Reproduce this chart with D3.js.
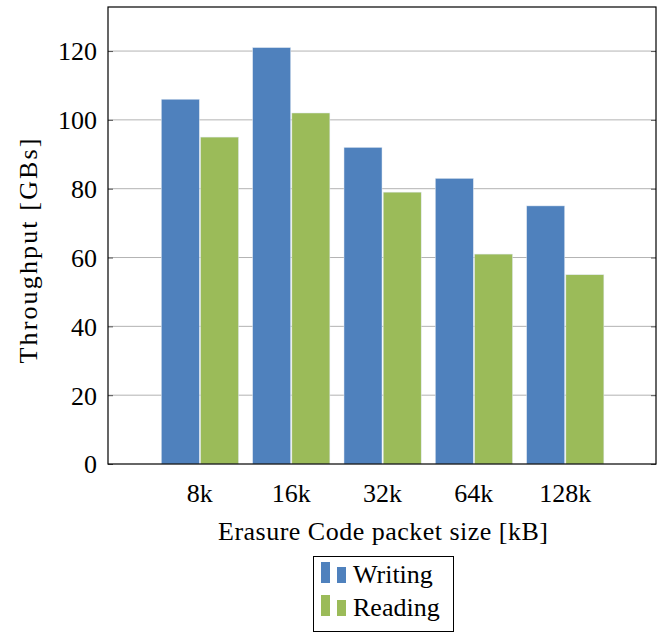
<!DOCTYPE html>
<html>
<head>
<meta charset="utf-8">
<script src="https://cdn.jsdelivr.net/npm/d3@7"></script>
<style>
  body { margin: 0; background: #fff; }
</style>
</head>
<body>
<script>
// chart data
const categories = ['8k', '16k', '32k', '64k', '128k'];
const writing = [106, 121, 92, 83, 75];
const reading = [95, 102, 79, 61, 55];
const yTicks = [0, 20, 40, 60, 80, 100, 120];
const seriesNames = ['Writing', 'Reading'];

const font = "'Liberation Serif', 'Times New Roman', Times, 'DejaVu Serif', serif";
const fs = 26;
const colors = { Writing: '#4f81bd', Reading: '#9bbb59' };
const width = 663, height = 633;
const margin = { top: 7, right: 7, bottom: 169, left: 108 };

const svg = d3.select('body').append('svg')
  .attr('width', width)
  .attr('height', height)
  .attr('font-family', font);

const x = d3.scalePoint()
  .domain(categories)
  .range([margin.left, width - margin.right])
  .padding(1);

const y = d3.scaleLinear()
  .domain([0, 132.8])
  .range([height - margin.bottom, margin.top]);

const barW = 38;

// grid
svg.append('g')
  .selectAll('line')
  .data(yTicks.slice(1))
  .join('line')
  .attr('x1', margin.left)
  .attr('x2', width - margin.right)
  .attr('y1', d => y(d))
  .attr('y2', d => y(d))
  .attr('stroke', '#b3b3b3')
  .attr('stroke-width', 1);

// bars
const series = [
  { name: 'Writing', values: writing, off: -barW },
  { name: 'Reading', values: reading, off: 1.2 }
];
series.forEach(s => {
  svg.append('g')
    .selectAll('rect')
    .data(s.values)
    .join('rect')
    .attr('x', (d, i) => x(categories[i]) + s.off)
    .attr('y', d => y(d))
    .attr('width', barW)
    .attr('height', d => y(0) - y(d))
    .attr('fill', colors[s.name])
    .attr('stroke', '#dfe8f2')
    .attr('stroke-width', 0.5);
});

// y axis ticks (inward, both sides)
svg.append('g')
  .attr('transform', `translate(${margin.left},0)`)
  .call(d3.axisLeft(y).tickValues(yTicks).tickSize(-5).tickPadding(11))
  .attr('font-family', font)
  .call(g => g.select('.domain').remove())
  .call(g => g.selectAll('line').attr('stroke', '#555'))
  .call(g => g.selectAll('text').attr('font-size', fs).attr('dy', '0.34em'));

svg.append('g')
  .attr('transform', `translate(${width - margin.right},0)`)
  .call(d3.axisRight(y).tickValues(yTicks).tickSize(-5).tickFormat(''))
  .call(g => g.select('.domain').remove())
  .call(g => g.selectAll('line').attr('stroke', '#555'));

// x axis labels
svg.append('g')
  .attr('transform', `translate(0,${y(0)})`)
  .call(d3.axisBottom(x).tickSize(0).tickPadding(20))
  .attr('font-family', font)
  .call(g => g.select('.domain').remove())
  .call(g => g.selectAll('text').attr('font-size', fs));

// frame
svg.append('rect')
  .attr('x', margin.left)
  .attr('y', margin.top)
  .attr('width', width - margin.right - margin.left)
  .attr('height', y(0) - margin.top)
  .attr('fill', 'none')
  .attr('stroke', '#000')
  .attr('stroke-width', 1.2);

// axis titles
svg.append('text')
  .attr('x', 383)
  .attr('y', 540)
  .attr('text-anchor', 'middle')
  .attr('font-size', fs)
  .attr('textLength', 330)
  .attr('lengthAdjust', 'spacing')
  .text('Erasure Code packet size [kB]');

svg.append('text')
  .attr('transform', 'translate(37,251) rotate(-90)')
  .attr('text-anchor', 'middle')
  .attr('font-size', fs)
  .attr('textLength', 225)
  .attr('lengthAdjust', 'spacing')
  .text('Throughput [GBs]');

// legend
const legend = svg.append('g');
legend.append('rect')
  .attr('x', 313.5).attr('y', 556.5)
  .attr('width', 140).attr('height', 75)
  .attr('fill', '#fff')
  .attr('stroke', '#000')
  .attr('stroke-width', 1);

seriesNames.forEach((name, i) => {
  const base = 583 + i * 33;
  legend.append('rect')
    .attr('x', 321).attr('y', base - 21)
    .attr('width', 9).attr('height', 21)
    .attr('fill', colors[name]);
  legend.append('rect')
    .attr('x', 337).attr('y', base - 16)
    .attr('width', 9).attr('height', 16)
    .attr('fill', colors[name]);
  legend.append('text')
    .attr('x', 353).attr('y', base)
    .attr('font-size', fs)
    .text(name);
});
</script>
</body>
</html>
